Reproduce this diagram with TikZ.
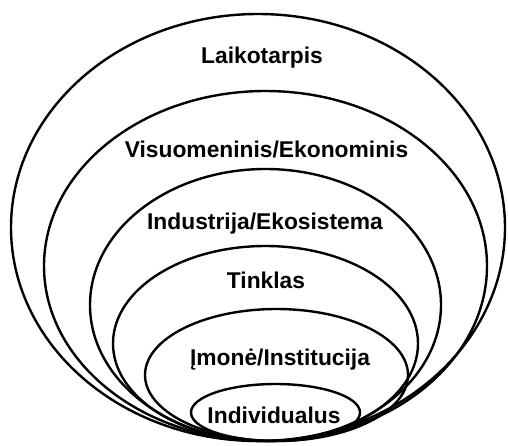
\documentclass[tikz,border=0pt]{standalone}
\usepackage{fontspec}
\setmainfont{Liberation Sans}
\begin{document}
\begin{tikzpicture}[x=1pt,y=-1pt,
  ring/.style={draw=black,line width=2.4pt},
  lbl/.style={anchor=base,inner sep=0pt,font=\fontsize{22.8}{26}\selectfont\bfseries}]
\useasboundingbox (0,0) rectangle (508,445);
\draw[ring] (258,227.5) ellipse [x radius=247pt, y radius=213.5pt];
\draw[ring] (265.5,266) ellipse [x radius=221.5pt, y radius=175pt];
\draw[ring] (265.5,305) ellipse [x radius=175.5pt, y radius=136pt];
\draw[ring] (265.5,343.5) ellipse [x radius=152.5pt, y radius=97.5pt];
\draw[ring] (276.5,375) ellipse [x radius=131.5pt, y radius=66pt];
\draw[ring] (275.5,412.5) ellipse [x radius=84.5pt, y radius=28.5pt];
\node[lbl] (t1) at (262,63) {Laikotarpis};
\node[lbl] (t2) at (266.5,157) {Visuomeninis/Ekonominis};
\node[lbl] (t3) at (265,229) {Industrija/Ekosistema};
\node[lbl] (t4) at (266,288) {Tinklas};
\node[lbl] (t5) at (280,365) {Įmonė/Institucija};
\node[lbl] (t6) at (274,423) {Individualus};
\end{tikzpicture}
\end{document}
